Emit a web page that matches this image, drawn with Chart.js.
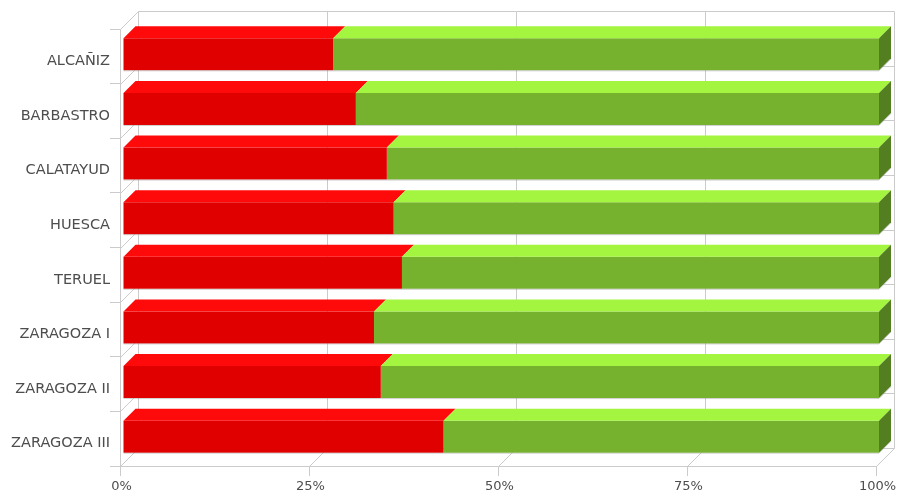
<!DOCTYPE html>
<html>
<head>
<meta charset="utf-8">
<script src="https://cdn.jsdelivr.net/npm/chart.js@4/dist/chart.umd.min.js"></script>
<style>
  html, body { margin: 0; padding: 0; background: #fff; }
  canvas { display: block; }
</style>
</head>
<body>
<canvas id="chart" width="899" height="499"></canvas>
<script>
const categories = ["ALCAÑIZ", "BARBASTRO", "CALATAYUD", "HUESCA", "TERUEL", "ZARAGOZA I", "ZARAGOZA II", "ZARAGOZA III"];
const redValues = [27.8, 30.8, 34.9, 35.8, 36.9, 33.2, 34.1, 42.4];
const greenValues = [72.2, 69.2, 65.1, 64.2, 63.1, 66.8, 65.9, 57.6];
const percentTicks = [0, 25, 50, 75, 100];

const WALL = 18;      // depth of the box behind the bars
const BAR_DEPTH = 12; // thickness of the bar top / side faces
const BAR_SHIFT = [3, -2];
const GRID = "#cbcbcb";

const faces = [
    { front: "#e10000", top: "#ff0a0a", side: "#a00000" },
    { front: "#77b22f", top: "#a3f53f", side: "#547f20" }
];

function line(ctx, x1, y1, x2, y2) {
    ctx.beginPath();
    ctx.moveTo(x1 + 0.5, y1 + 0.5);
    ctx.lineTo(x2 + 0.5, y2 + 0.5);
    ctx.stroke();
}

function poly(ctx, pts, fill) {
    ctx.beginPath();
    ctx.moveTo(pts[0][0], pts[0][1]);
    for (let i = 1; i < pts.length; i++) ctx.lineTo(pts[i][0], pts[i][1]);
    ctx.closePath();
    ctx.fillStyle = fill;
    ctx.fill();
}

// back wall, left wall and floor of the 3D box, then the bar extrusions
const box3d = {
    id: "box3d",
    beforeDatasetsDraw(chart) {
        const { ctx, chartArea: a, scales } = chart;
        const xs = scales.x;
        const band = (a.bottom - a.top) / categories.length;
        ctx.save();
        ctx.strokeStyle = GRID;
        ctx.lineWidth = 1;
        percentTicks.forEach(v => {
            const px = Math.round(xs.getPixelForValue(v));
            line(ctx, px + WALL, a.top - WALL, px + WALL, a.bottom - WALL);
            line(ctx, px, a.bottom, px + WALL, a.bottom - WALL);
        });
        for (let i = 0; i <= categories.length; i++) {
            const py = Math.round(a.top + i * band);
            line(ctx, a.left + WALL, py - WALL, a.right + WALL, py - WALL);
            line(ctx, a.left, py, a.left + WALL, py - WALL);
        }
        ctx.restore();

        // bars sit a little way into the box
        ctx.save();
        ctx.translate(BAR_SHIFT[0], BAR_SHIFT[1]);
    },
    afterDatasetsDraw(chart) {
        const { ctx } = chart;
        const d = BAR_DEPTH;
        const count = chart.data.datasets.length;
        chart.data.datasets.forEach((ds, di) => {
            chart.getDatasetMeta(di).data.forEach(el => {
                const { x, y, base, height } = el.getProps(["x", "y", "base", "height"], true);
                const left = Math.min(x, base);
                const right = Math.max(x, base);
                const top = y - height / 2;
                const bottom = y + height / 2;
                poly(ctx, [[left, top], [right, top], [right + d, top - d], [left + d, top - d]], faces[di].top);
                if (di === count - 1) {
                    poly(ctx, [[right, top], [right + d, top - d], [right + d, bottom - d], [right, bottom]], faces[di].side);
                }
            });
        });
        // soft edge under each bar
        ctx.strokeStyle = "rgba(150,150,150,0.45)";
        ctx.lineWidth = 1;
        const last = chart.getDatasetMeta(count - 1).data;
        const first = chart.getDatasetMeta(0).data;
        last.forEach((el, i) => {
            const { x, y, height } = el.getProps(["x", "y", "height"], true);
            const start = first[i].getProps(["base"], true).base;
            const bottom = y + height / 2;
            ctx.beginPath();
            ctx.moveTo(start, bottom + 0.5);
            ctx.lineTo(x, bottom + 0.5);
            ctx.lineTo(x + d, bottom - d + 0.5);
            ctx.stroke();
        });
        ctx.restore();
    }
};

new Chart(document.getElementById("chart"), {
    type: "bar",
    data: {
        labels: categories,
        datasets: [
            { label: "Serie 1", data: redValues, backgroundColor: faces[0].front },
            { label: "Serie 2", data: greenValues, backgroundColor: faces[1].front }
        ]
    },
    options: {
        indexAxis: "y",
        responsive: false,
        animation: false,
        events: [],
        layout: { padding: { top: 29, right: 23, left: 0, bottom: 0 } },
        datasets: {
            bar: { categoryPercentage: 1, barPercentage: 0.586, borderWidth: 0 }
        },
        scales: {
            x: {
                stacked: true,
                min: 0,
                max: 100,
                afterFit: s => { s.height = 33; },
                afterBuildTicks: s => { s.ticks = percentTicks.map(v => ({ value: v })); },
                ticks: {
                    callback: v => v + "%",
                    color: "#4d4d4d",
                    padding: 3,
                    labelOffset: 1.5,
                    maxRotation: 0,
                    font: { family: "DejaVu Sans", size: 13 }
                },
                grid: { drawOnChartArea: false, tickLength: 10, color: GRID },
                border: { color: GRID }
            },
            y: {
                stacked: true,
                afterFit: s => { s.width = 120; },
                ticks: {
                    color: "#4d4d4d",
                    padding: 0,
                    labelOffset: 5,
                    font: { family: "DejaVu Sans", size: 14.5 }
                },
                grid: { drawOnChartArea: false, tickLength: 10, color: GRID },
                border: { color: GRID }
            }
        },
        plugins: {
            legend: { display: false },
            tooltip: { enabled: false }
        }
    },
    plugins: [box3d]
});
</script>
</body>
</html>
